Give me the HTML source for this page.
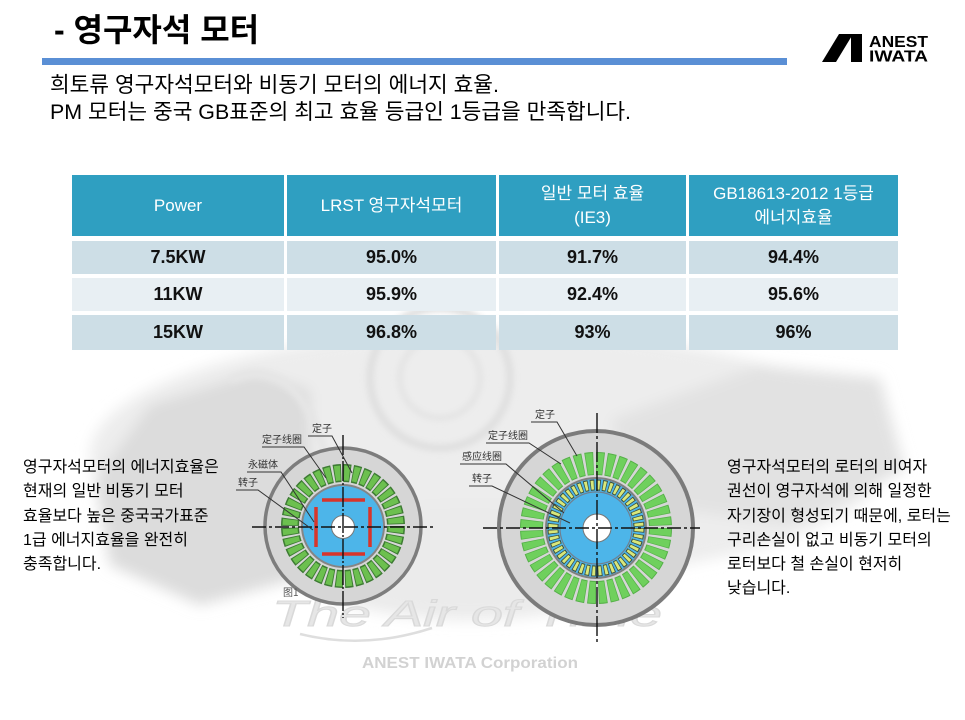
<!DOCTYPE html>
<html>
<head>
<meta charset="utf-8">
<style>
  html,body{margin:0;padding:0;background:#fff;}
  #page{position:relative;width:965px;height:720px;overflow:hidden;background:#fff;
    font-family:"Liberation Sans","Noto Sans CJK KR",sans-serif;}
  .abs{position:absolute;white-space:nowrap;}
  .title{left:54px;top:9px;font-size:32px;font-weight:bold;line-height:42px;color:#000;}
  .sub{left:50px;font-size:21.4px;line-height:27px;color:#000;}
  .cell{position:absolute;display:flex;align-items:center;justify-content:center;text-align:center;}
  .hd{background:#2f9fc1;color:#fff;font-size:17px;line-height:24px;}
  .r1{background:#cddee6;}
  .r2{background:#e8eff3;}
  .bd{font-size:18px;font-weight:bold;color:#111;}
  .para{font-size:16px;line-height:24.3px;color:#000;}
</style>
</head>
<body>
<div id="page">
<svg width="965" height="720" viewBox="0 0 965 720" style="position:absolute;left:0;top:0;">
  <defs>
    <filter id="bl" x="-20%" y="-20%" width="140%" height="140%"><feGaussianBlur stdDeviation="7"/></filter>
    <filter id="bl2" x="-20%" y="-20%" width="140%" height="140%"><feGaussianBlur stdDeviation="3"/></filter>
  </defs>

  <!-- header bar -->
  <rect x="42" y="58" width="745" height="7" fill="#5a8fd5"/>

  <!-- logo -->
  <polygon points="822,62 836,62 853,34 839,34" fill="#000"/>
  <polygon points="851,34 862,34 862,62 851,62" fill="#000"/>
  <text x="869" y="47" font-family="Liberation Sans" font-weight="bold" font-size="16" textLength="59" lengthAdjust="spacingAndGlyphs" fill="#000">ANEST</text>
  <text x="869" y="61.5" font-family="Liberation Sans" font-weight="bold" font-size="16" textLength="59" lengthAdjust="spacingAndGlyphs" fill="#000">IWATA</text>

  <!-- background faint motor watermark -->
  <g filter="url(#bl)">
    <ellipse cx="490" cy="455" rx="400" ry="125" fill="#ededed"/>
    <polygon points="95,480 150,405 255,372 310,390 310,575 200,605 110,565" fill="#dcdcdc"/>
    <polygon points="610,420 760,365 880,378 905,470 790,525 650,505" fill="#e2e2e2"/>
    <ellipse cx="470" cy="560" rx="180" ry="60" fill="#ebebeb"/>
  </g>
  <g filter="url(#bl2)" fill="none">
    <circle cx="440" cy="378" r="70" stroke="#e0e0e0" stroke-width="8"/>
    <circle cx="440" cy="378" r="40" stroke="#e4e4e4" stroke-width="6"/>
    <path d="M230 380 Q300 350 330 470" stroke="#e6e6e6" stroke-width="8"/>
  </g>

  <!-- watermark text -->
  <text x="272" y="626" font-family="Liberation Sans" font-style="italic" font-size="36" textLength="390" lengthAdjust="spacingAndGlyphs" fill="#e6e6e6" stroke="#d9d9d9" stroke-width="1">The Air of Time</text>
  <path d="M300 634 Q365 650 432 628" fill="none" stroke="#dedede" stroke-width="2.5"/>
  <text x="362" y="668" font-family="Liberation Sans" font-weight="bold" font-size="16" textLength="216" lengthAdjust="spacingAndGlyphs" fill="#d2d2d2">ANEST IWATA Corporation</text>

  <!-- Motor 1 -->
  <g>
    <circle cx="343" cy="526" r="78" fill="#d6d6d6" stroke="#7d7d7d" stroke-width="3.5"/>
    <circle cx="343" cy="526" r="53" fill="none" stroke="#3d7b33" stroke-width="18" stroke-dasharray="7.2 2.05"/>
    <circle cx="343" cy="526" r="53" fill="none" stroke="#6cc04f" stroke-width="15" stroke-dasharray="5.4 3.85" stroke-dashoffset="-0.9"/>
    <circle cx="343" cy="526" r="41" fill="#4db5e9" stroke="#858585" stroke-width="2"/>
    <g stroke="#d8352b" stroke-width="3.5">
      <line x1="322" y1="500" x2="365" y2="500"/>
      <line x1="322" y1="554" x2="365" y2="554"/>
      <line x1="316" y1="507" x2="316" y2="547"/>
      <line x1="370" y1="507" x2="370" y2="547"/>
    </g>
    <circle cx="343" cy="527" r="11.5" fill="#fff" stroke="#777" stroke-width="1"/>
    <line x1="252" y1="527" x2="433" y2="527" stroke="#111" stroke-width="1.6" stroke-dasharray="14 3 3 3"/>
    <line x1="343" y1="435" x2="343" y2="618" stroke="#111" stroke-width="1.4" stroke-dasharray="20 2 2 2"/>
    <g font-family="'Noto Sans CJK SC',sans-serif" font-size="10" fill="#333">
      <text x="312" y="432">定子</text>
      <text x="262" y="443">定子线圈</text>
      <text x="248" y="468">永磁体</text>
      <text x="238" y="486">转子</text>
      <text x="283" y="596" fill="#555">图1</text>
    </g>
    <g stroke="#333" stroke-width="1" fill="none">
      <polyline points="308,436 332,436 352,473"/>
      <polyline points="262,447 304,447 326,478"/>
      <polyline points="247,472 281,472 314,522"/>
      <polyline points="236,490 258,490 313,530"/>
    </g>
  </g>

  <!-- Motor 2 -->
  <g>
    <circle cx="596" cy="528" r="97" fill="#d6d6d6" stroke="#7b7b7b" stroke-width="4"/>
    <circle cx="596" cy="528" r="64.5" fill="none" stroke="#55b048" stroke-width="23" stroke-dasharray="7.6 2.53"/>
    <circle cx="596" cy="528" r="64.5" fill="none" stroke="#6fd05d" stroke-width="21" stroke-dasharray="6.2 3.93" stroke-dashoffset="-0.7"/>
    <circle cx="596" cy="528" r="50" fill="#4db5e9" stroke="#808080" stroke-width="2"/>
    <circle cx="596" cy="528" r="43" fill="none" stroke="#3e4e3a" stroke-width="11" stroke-dasharray="4.3 1.84"/>
    <circle cx="596" cy="528" r="43" fill="none" stroke="#d8e87a" stroke-width="9" stroke-dasharray="2.8 3.34" stroke-dashoffset="-0.75"/>
    <circle cx="596" cy="528" r="36" fill="#4db5e9" stroke="#6f8090" stroke-width="1.2"/>
    <circle cx="597" cy="528" r="14" fill="#fff" stroke="#777" stroke-width="1"/>
    <line x1="483" y1="528" x2="700" y2="528" stroke="#111" stroke-width="1.6" stroke-dasharray="14 3 3 3"/>
    <line x1="597" y1="413" x2="597" y2="642" stroke="#111" stroke-width="1.4" stroke-dasharray="20 3 3 3"/>
    <g font-family="'Noto Sans CJK SC',sans-serif" font-size="10" fill="#333">
      <text x="535" y="418">定子</text>
      <text x="488" y="439">定子线圈</text>
      <text x="462" y="460">感应线圈</text>
      <text x="472" y="482">转子</text>
    </g>
    <g stroke="#333" stroke-width="1" fill="none">
      <polyline points="531,422 557,422 577,456"/>
      <polyline points="486,443 529,443 561,464"/>
      <polyline points="460,464 506,464 564,513"/>
      <polyline points="469,486 492,486 570,523"/>
    </g>
  </g>
</svg>

<div class="abs title">- 영구자석 모터</div>
<div class="abs sub" style="top:72px;">희토류 영구자석모터와 비동기 모터의 에너지 효율.</div>
<div class="abs sub" style="top:99px;">PM 모터는 중국 GB표준의 최고 효율 등급인 1등급을 만족합니다.</div>

<!-- table header -->
<div class="cell hd" style="left:72px;top:175px;width:212px;height:61px;">Power</div>
<div class="cell hd" style="left:287px;top:175px;width:209px;height:61px;">LRST 영구자석모터</div>
<div class="cell hd" style="left:499px;top:175px;width:187px;height:61px;">일반 모터 효율<br>(IE3)</div>
<div class="cell hd" style="left:689px;top:175px;width:209px;height:61px;">GB18613-2012 1등급<br>에너지효율</div>

<!-- row 1 -->
<div class="cell r1 bd" style="left:72px;top:241px;width:212px;height:33px;">7.5KW</div>
<div class="cell r1 bd" style="left:287px;top:241px;width:209px;height:33px;">95.0%</div>
<div class="cell r1 bd" style="left:499px;top:241px;width:187px;height:33px;">91.7%</div>
<div class="cell r1 bd" style="left:689px;top:241px;width:209px;height:33px;">94.4%</div>
<!-- row 2 -->
<div class="cell r2 bd" style="left:72px;top:278px;width:212px;height:33px;">11KW</div>
<div class="cell r2 bd" style="left:287px;top:278px;width:209px;height:33px;">95.9%</div>
<div class="cell r2 bd" style="left:499px;top:278px;width:187px;height:33px;">92.4%</div>
<div class="cell r2 bd" style="left:689px;top:278px;width:209px;height:33px;">95.6%</div>
<!-- row 3 -->
<div class="cell r1 bd" style="left:72px;top:315px;width:212px;height:35px;">15KW</div>
<div class="cell r1 bd" style="left:287px;top:315px;width:209px;height:35px;">96.8%</div>
<div class="cell r1 bd" style="left:499px;top:315px;width:187px;height:35px;">93%</div>
<div class="cell r1 bd" style="left:689px;top:315px;width:209px;height:35px;">96%</div>

<div class="abs para" style="left:23px;top:456px;">영구자석모터의 에너지효율은<br>현재의 일반 비동기 모터<br>효율보다 높은 중국국가표준<br>1급 에너지효율을 완전히<br>충족합니다.</div>

<div class="abs para" style="left:727px;top:456px;">영구자석모터의 로터의 비여자<br>권선이 영구자석에 의해 일정한<br>자기장이 형성되기 때문에, 로터는<br>구리손실이 없고 비동기 모터의<br>로터보다 철 손실이 현저히<br>낮습니다.</div>
</div>
</body>
</html>
